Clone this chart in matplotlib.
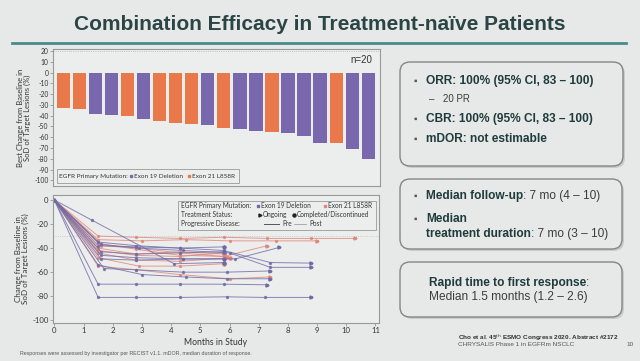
import matplotlib
matplotlib.use("Agg")
import matplotlib.pyplot as plt
from matplotlib.patches import FancyBboxPatch, Rectangle
from matplotlib.lines import Line2D

plt.rcParams['axes.unicode_minus'] = False

# ---------------- data ----------------
# waterfall: best change from baseline per patient (%)
bar_values = [-33, -34, -38, -39.5, -40.5, -43, -45, -46.5, -47.5, -49,
              -51, -52.5, -54, -55, -56, -59, -65.5, -65.5, -70.5, -80.5]
bar_mutation = ['E21', 'E21', 'E19', 'E19', 'E21', 'E19', 'E21', 'E21', 'E21', 'E19',
                'E21', 'E19', 'E19', 'E21', 'E19', 'E19', 'E19', 'E21', 'E19', 'E19']

# spider: months in study and change from baseline for each patient
spider_months = [
    [0, 1.5, 2.8, 4.3, 5.8, 7.3, 8.8, 10.3],
    [0, 1.5, 3.0, 4.5, 6.0, 7.6, 9.0],
    [0, 1.6, 2.8, 4.3, 5.8, 7.3],
    [0, 1.5, 2.8, 4.3, 5.8],
    [0, 1.5, 2.8, 4.3, 5.8],
    [0, 1.5, 2.8, 4.3, 5.9],
    [0, 1.5, 2.8, 4.3, 6.0],
    [0, 1.5, 2.9, 4.3, 5.8],
    [0, 1.5, 2.8, 4.3, 6.0, 7.4],
    [0, 1.3, 4.1, 5.8],
    [0, 1.5, 2.8, 4.3, 5.8, 7.4, 8.8],
    [0, 1.6, 2.9, 4.4, 6.0, 7.4, 8.8],
    [0, 1.6, 2.8, 4.4, 6.2, 7.7],
    [0, 1.5, 2.8, 4.3, 5.8],
    [0, 1.6, 2.8, 4.3, 5.8],
    [0, 1.6, 2.8, 4.4, 5.8],
    [0, 1.7, 2.8, 4.4, 5.9, 7.4],
    [0, 1.5, 3.0, 4.5, 5.9, 7.4],
    [0, 1.5, 2.8, 4.3, 5.8, 7.3],
    [0, 1.5, 2.8, 4.3, 5.9, 7.2, 8.8],
]
spider_change = [
    [0, -30, -31, -32, -31, -32, -32, -32],
    [0, -33, -34, -33, -34, -34, -34],
    [0, -38, -40, -44, -47, -38],
    [0, -40, -45, -43, -45],
    [0, -42, -46, -47, -44],
    [0, -36, -41, -46, -47],
    [0, -44, -50, -51, -48],
    [0, -48, -55, -55, -53],
    [0, -55, -58, -62, -65.5, -64],
    [0, -17, -53, -52],
    [0, -35, -38, -40, -42, -52, -52.5],
    [0, -37, -40, -42, -44, -56, -56],
    [0, -46, -48, -49, -49, -39.5],
    [0, -38, -39, -40, -39],
    [0, -43, -45, -44, -43],
    [0, -49, -50, -49, -49],
    [0, -57, -58, -60, -60, -59],
    [0, -54, -62, -64, -65.5, -65.5],
    [0, -70, -70, -70, -70, -70.5],
    [0, -81, -81, -81, -80.5, -81, -81],
]
spider_mutation = ['E21'] * 9 + ['E19'] * 11
spider_ongoing = [True, True, True, False, False, True, False, False, True, False,
                  True, True, True, False, False, False, True, True, True, True]

# ---------------- style ----------------
bg_col = '#e7e9e8'
orange = '#e9784b'
purple = '#7a68af'
line_col = {'E21': '#e0867a', 'E19': '#6f6aa6'}
bar_col = {'E21': orange, 'E19': purple}
dark = '#1f3b3b'
grey_txt = '#3c3c3c'
chart_font = ['Lato', 'DejaVu Sans']
slide_font = ['Liberation Sans', 'DejaVu Sans']

fig = plt.figure(figsize=(6.4, 3.61), dpi=100, facecolor=bg_col)

# full-figure pixel canvas for slide decorations
bg = fig.add_axes([0, 0, 1, 1])
bg.set_xlim(0, 640)
bg.set_ylim(361, 0)
bg.axis('off')
bg.set_zorder(0)

bg.text(320, 25, 'Combination Efficacy in Treatment-naïve Patients', fontsize=15,
        fontweight='bold', color='#2b4545', ha='center', va='center', family=slide_font)
bg.plot([12, 626], [43, 43], color='#4a8a8a', lw=2)


def box(x0, y0, x1, y1):
    sh = FancyBboxPatch((x0 + 2, y0 + 2), x1 - x0, y1 - y0,
                        boxstyle='round,pad=0,rounding_size=10',
                        facecolor='#b8baba', edgecolor='none', alpha=0.6)
    bg.add_patch(sh)
    p = FancyBboxPatch((x0, y0), x1 - x0, y1 - y0,
                       boxstyle='round,pad=0,rounding_size=10',
                       facecolor=bg_col, edgecolor='#858585', lw=1)
    bg.add_patch(p)


def rich(x, y, parts, fs=8.6):
    renderer = fig.canvas.get_renderer()
    for s, w, c in parts:
        t = bg.text(x, y, s, fontsize=fs, fontweight=w, color=c, ha='left',
                    va='center', family=slide_font)
        x += t.get_window_extent(renderer).width


box(400, 62, 623, 166)
box(400, 179, 622, 249)
box(400, 262, 622, 317)

bullet = '\u25aa'
for yy, s in [(81, 'ORR: 100% (95% CI, 83 \u2013 100)'),
              (119, 'CBR: 100% (95% CI, 83 \u2013 100)'),
              (139, 'mDOR: not estimable')]:
    bg.text(414, yy, bullet, fontsize=7, color='#555555', va='center', family=slide_font)
    bg.text(426, yy, s, fontsize=8.6, fontweight='bold', color=dark, va='center',
            family=slide_font)
bg.text(429, 99, '\u2013', fontsize=7, color=grey_txt, va='center', family=slide_font)
bg.text(443, 99, '20 PR', fontsize=7, color=grey_txt, va='center', family=slide_font)

bg.text(414, 196, bullet, fontsize=7, color='#555555', va='center', family=slide_font)
rich(426, 196, [('Median follow-up', 'bold', dark), (': 7 mo (4 \u2013 10)', 'normal', grey_txt)])
bg.text(414, 219, bullet, fontsize=7, color='#555555', va='center', family=slide_font)
rich(426, 219, [('Median', 'bold', dark)])
rich(426, 234, [('treatment duration', 'bold', dark), (': 7 mo (3 \u2013 10)', 'normal', grey_txt)])

rich(429, 283, [('Rapid time to first response', 'bold', dark), (':', 'normal', grey_txt)])
rich(429, 297, [('Median 1.5 months (1.2 \u2013 2.6)', 'normal', grey_txt)])

bg.text(458, 338, r'Cho et al. 45$^{\mathrm{th}}$ ESMO Congress 2020. Abstract #2172', fontsize=4.6,
        fontweight='bold', color='#333333', va='center', family=slide_font)
bg.text(458, 345, 'CHRYSALIS Phase 1 in EGFRm NSCLC', fontsize=4.6, color='#555555',
        va='center', family=slide_font)
bg.text(630, 345, '10', fontsize=4.6, color='#555555', va='center', ha='center',
        family=slide_font)
bg.text(20, 354, 'Responses were assessed by investigator per RECIST v1.1. mDOR, median duration of response.',
        fontsize=3.8, color='#555555', va='center', family=slide_font)

# ---------------- waterfall ----------------
ax1 = fig.add_axes([52.7 / 640, 1 - 185.7 / 361, 327.3 / 640, 136.4 / 361])
ax1.set_zorder(2)
ax1.set_facecolor('#eceeed')
xs = list(range(len(bar_values)))
ax1.bar(xs, bar_values, width=0.83, color=[bar_col[m] for m in bar_mutation])
ax1.set_xlim(-0.66, 19.73)
ax1.set_ylim(-105, 21.6)
ax1.set_yticks(range(-100, 21, 10))
ax1.set_xticks([])
ax1.axhline(20, color='#b0b0b0', lw=0.6, ls=':')
ax1.tick_params(axis='y', labelsize=4.9, length=2, width=0.5, color='#888888', pad=1,
                labelcolor='#333333')
for lab in ax1.get_yticklabels():
    lab.set_family(chart_font)
for sp in ax1.spines.values():
    sp.set_color('#999999')
    sp.set_linewidth(0.8)
ax1.set_ylabel('Best Change from Baseline in\nSoD of Target Lesions (%)', fontsize=5.5,
               color='#333333', family=chart_font, labelpad=2, linespacing=1.1)
ax1.text(0.976, 0.92, 'n=20', transform=ax1.transAxes, ha='right', va='center',
         fontsize=7, color='#333333', family=slide_font)
ax1.add_patch(Rectangle((0.013, 0.02), 0.556, 0.102, transform=ax1.transAxes,
                        facecolor='#eceeed', edgecolor='#999999', lw=0.6))
wf_px = lambda x: (x - 52.7) / 327.3
wf_kw = dict(transform=ax1.transAxes, fontsize=4.6, va='center', color='#333333',
             family=chart_font)
ax1.text(wf_px(59), 0.071, 'EGFR Primary Mutation:', **wf_kw)
ax1.plot([wf_px(131)], [0.071], marker='s', markersize=1.8, color=purple,
         transform=ax1.transAxes)
ax1.text(wf_px(134), 0.071, 'Exon 19 Deletion', **wf_kw)
ax1.plot([wf_px(189)], [0.071], marker='s', markersize=1.8, color=orange,
         transform=ax1.transAxes)
ax1.text(wf_px(192), 0.071, 'Exon 21 L858R', **wf_kw)

# ---------------- spider ----------------
ax2 = fig.add_axes([52.7 / 640, 1 - 322.7 / 361, 326.3 / 640, 127.7 / 361])
ax2.set_zorder(2)
ax2.set_facecolor('#eceeed')
ax2.axhline(-30, color='#c0c0c0', lw=0.6, ls=':')
for t, v, m, ong in zip(spider_months, spider_change, spider_mutation, spider_ongoing):
    c = line_col[m]
    ax2.plot(t, v, color=c, lw=0.7, alpha=0.8, marker='o', markersize=1.4)
    ax2.plot(t[-1], v[-1], marker='>' if ong else 'o', markersize=2.2, color=c)
ax2.set_xlim(-0.055, 11.12)
ax2.set_ylim(-102, 4.1)
ax2.set_xticks(range(0, 12))
ax2.set_yticks(range(-100, 1, 20))
ax2.tick_params(labelsize=5.6, length=2, width=0.5, color='#888888', pad=1,
                labelcolor='#333333')
for lab in ax2.get_xticklabels() + ax2.get_yticklabels():
    lab.set_family(chart_font)
for sp in ax2.spines.values():
    sp.set_color('#999999')
    sp.set_linewidth(0.8)
ax2.set_xlabel('Months in Study', fontsize=6.2, color='#333333', family=chart_font, labelpad=3)
ax2.set_ylabel('Change from Baseline in\nSoD of Target Lesions (%)', fontsize=5.8,
               color='#333333', family=chart_font, labelpad=2, linespacing=1.1)

# legend box of the spider plot
ax2.add_patch(Rectangle((0.384, 0.726), 0.607, 0.229, transform=ax2.transAxes,
                        facecolor='#eceeed', edgecolor='#999999', lw=0.6, zorder=5))
rows = [0.915, 0.846, 0.776]
ax_px = lambda x: (x - 52.7) / 326.3
legend_kw = dict(transform=ax2.transAxes, fontsize=4.7, va='center', color='#333333',
                 family=chart_font, zorder=6)
ax2.text(ax_px(181), rows[0], 'EGFR Primary Mutation:', **legend_kw)
ax2.text(ax_px(181), rows[1], 'Treatment Status:', **legend_kw)
ax2.text(ax_px(181), rows[2], 'Progressive Disease:', **legend_kw)
ax2.plot([ax_px(258)], [rows[0]], marker='s', markersize=1.8, color=line_col['E19'],
         transform=ax2.transAxes, zorder=6)
ax2.text(ax_px(261), rows[0], 'Exon 19 Deletion', **legend_kw)
ax2.plot([ax_px(325)], [rows[0]], marker='s', markersize=1.8, color=line_col['E21'],
         transform=ax2.transAxes, zorder=6)
ax2.text(ax_px(328), rows[0], 'Exon 21 L858R', **legend_kw)
ax2.plot([ax_px(260)], [rows[1]], marker='>', markersize=2.2, color='#222222',
         transform=ax2.transAxes, zorder=6)
ax2.text(ax_px(263), rows[1], 'Ongoing', **legend_kw)
ax2.plot([ax_px(294)], [rows[1]], marker='o', markersize=2.2, color='#222222',
         transform=ax2.transAxes, zorder=6)
ax2.text(ax_px(297), rows[1], 'Completed/Discontinued', **legend_kw)
ax2.add_line(Line2D([ax_px(264), ax_px(279)], [rows[2], rows[2]], color='#555555', lw=0.7,
                    transform=ax2.transAxes, zorder=6))
ax2.text(ax_px(282), rows[2], 'Pre', **legend_kw)
ax2.add_line(Line2D([ax_px(294), ax_px(306)], [rows[2], rows[2]], color='#777777', lw=0.4,
                    transform=ax2.transAxes, zorder=6))
ax2.text(ax_px(309), rows[2], 'Post', **legend_kw)

fig.savefig('out.png', dpi=100, facecolor=bg_col)
